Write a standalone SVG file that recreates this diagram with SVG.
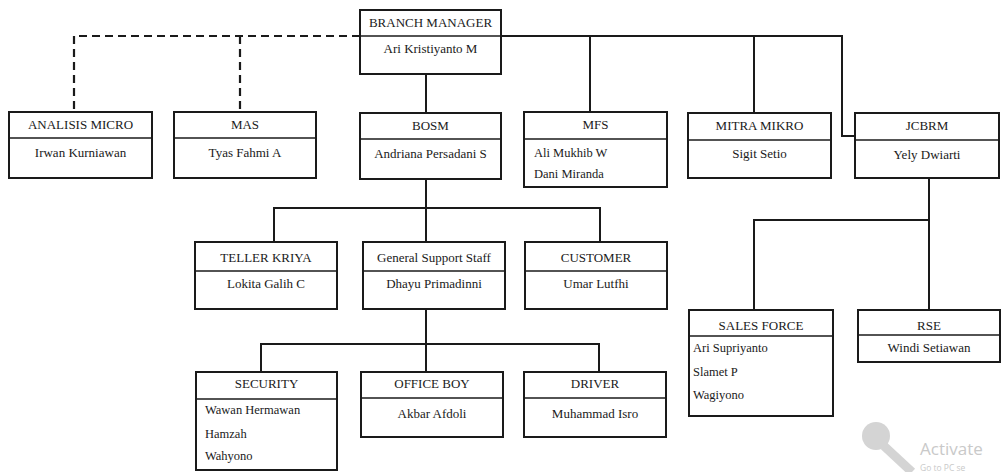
<svg xmlns="http://www.w3.org/2000/svg" width="1003" height="472" viewBox="0 0 1003 472">
<style>
.box{fill:#fff;stroke:#1a1a1a;stroke-width:2}
.div{stroke:#1a1a1a;stroke-width:1.6}
.t{font-family:"Liberation Serif","Times New Roman",serif;font-size:13px;fill:#1a1a1a}
.c{text-anchor:middle}
.l{font-size:12.5px}
.con{fill:none;stroke:#1a1a1a;stroke-width:2}
.dash{fill:none;stroke:#1a1a1a;stroke-width:2.2;stroke-dasharray:8 5}
.wm{font-family:"Open Sans","Noto Sans",sans-serif;fill:#c9c9c9}
</style>
<rect width="1003" height="472" fill="#fff"/>
<g id="connectors">
<path class="dash" d="M360,36 H74 V112"/>
<path class="dash" d="M240,36 V112"/>
<path class="con" d="M501,36 H842 V136 H855"/>
<path class="con" d="M590,36 V112"/>
<path class="con" d="M754,36 V113"/>
<path class="con" d="M426,74 V113"/>
<path class="con" d="M426,179 V242 M274,242 V208 H600 V242"/>
<path class="con" d="M426,309 V372 M261,372 V344 H599 V372"/>
<path class="con" d="M929,178 V310 M754,310 V220 H929"/>
</g>
<g id="branch-manager">
<rect class="box" x="360" y="10" width="141" height="64"/>
<line class="div" x1="360" y1="36" x2="501" y2="36"/>
<text class="t c" x="430.5" y="27">BRANCH MANAGER</text>
<text class="t c" x="430.5" y="53">Ari Kristiyanto M</text>
</g>
<g id="analisis-micro">
<rect class="box" x="9" y="112" width="143" height="66"/>
<line class="div" x1="9" y1="138" x2="152" y2="138"/>
<text class="t c" x="80.5" y="129">ANALISIS MICRO</text>
<text class="t c" x="80.5" y="157">Irwan Kurniawan</text>
</g>
<g id="mas">
<rect class="box" x="174" y="112" width="142" height="66"/>
<line class="div" x1="174" y1="138" x2="316" y2="138"/>
<text class="t c" x="245" y="129">MAS</text>
<text class="t c" x="245" y="157">Tyas Fahmi A</text>
</g>
<g id="bosm">
<rect class="box" x="360" y="113" width="141" height="66"/>
<line class="div" x1="360" y1="139" x2="501" y2="139"/>
<text class="t c" x="430.5" y="130">BOSM</text>
<text class="t c" x="430.5" y="158">Andriana Persadani S</text>
</g>
<g id="mfs">
<rect class="box" x="524" y="112" width="143" height="75"/>
<line class="div" x1="524" y1="139" x2="667" y2="139"/>
<text class="t c" x="595.5" y="129">MFS</text>
<text class="t l" x="534" y="157">Ali Mukhib W</text>
<text class="t l" x="534" y="178">Dani Miranda</text>
</g>
<g id="mitra-mikro">
<rect class="box" x="688" y="113" width="143" height="65"/>
<line class="div" x1="688" y1="140" x2="831" y2="140"/>
<text class="t c" x="759.5" y="130">MITRA MIKRO</text>
<text class="t c" x="759.5" y="158">Sigit Setio</text>
</g>
<g id="jcbrm">
<rect class="box" x="855" y="113" width="144" height="65"/>
<line class="div" x1="855" y1="140" x2="999" y2="140"/>
<text class="t c" x="927" y="130">JCBRM</text>
<text class="t c" x="927" y="159">Yely Dwiarti</text>
</g>
<g id="teller-kriya">
<rect class="box" x="195" y="242" width="142" height="67"/>
<line class="div" x1="195" y1="271" x2="337" y2="271"/>
<text class="t c" x="266" y="261.5">TELLER KRIYA</text>
<text class="t c" x="266" y="288">Lokita Galih C</text>
</g>
<g id="general-support-staff">
<rect class="box" x="363" y="242" width="142" height="67"/>
<line class="div" x1="363" y1="271" x2="505" y2="271"/>
<text class="t c" x="434" y="261.5">General Support Staff</text>
<text class="t c" x="434" y="288">Dhayu Primadinni</text>
</g>
<g id="customer">
<rect class="box" x="525" y="242" width="142" height="67"/>
<line class="div" x1="525" y1="271" x2="667" y2="271"/>
<text class="t c" x="596" y="261.5">CUSTOMER</text>
<text class="t c" x="596" y="288">Umar Lutfhi</text>
</g>
<g id="security">
<rect class="box" x="196" y="372" width="141" height="98"/>
<line class="div" x1="196" y1="399" x2="337" y2="399"/>
<text class="t c" x="266.5" y="388">SECURITY</text>
<text class="t l" x="205" y="414">Wawan Hermawan</text>
<text class="t l" x="205" y="438">Hamzah</text>
<text class="t l" x="205" y="460">Wahyono</text>
</g>
<g id="office-boy">
<rect class="box" x="361" y="372" width="142" height="65"/>
<line class="div" x1="361" y1="398" x2="503" y2="398"/>
<text class="t c" x="432" y="388">OFFICE BOY</text>
<text class="t c" x="432" y="418">Akbar Afdoli</text>
</g>
<g id="driver">
<rect class="box" x="524" y="372" width="142" height="65"/>
<line class="div" x1="524" y1="398" x2="666" y2="398"/>
<text class="t c" x="595" y="388">DRIVER</text>
<text class="t c" x="595" y="418">Muhammad Isro</text>
</g>
<g id="sales-force">
<rect class="box" x="689" y="310" width="144" height="106"/>
<line class="div" x1="689" y1="336" x2="833" y2="336"/>
<text class="t c" x="761" y="330">SALES FORCE</text>
<text class="t l" x="693" y="352">Ari Supriyanto</text>
<text class="t l" x="693" y="376">Slamet P</text>
<text class="t l" x="693" y="399">Wagiyono</text>
</g>
<g id="rse">
<rect class="box" x="858" y="310" width="142" height="52"/>
<line class="div" x1="858" y1="335" x2="1000" y2="335"/>
<text class="t c" x="929" y="330">RSE</text>
<text class="t c" x="929" y="352">Windi Setiawan</text>
</g>
<g id="watermark">
<circle cx="876" cy="436" r="14" fill="#d4d4d4"/>
<path d="M884,446 L912,472" stroke="#d4d4d4" stroke-width="9" fill="none"/>
<text class="wm" x="920" y="455" font-size="17">Activate</text>
<text class="wm" x="920" y="471" font-size="8.5">Go to PC se</text>
</g>
</svg>
